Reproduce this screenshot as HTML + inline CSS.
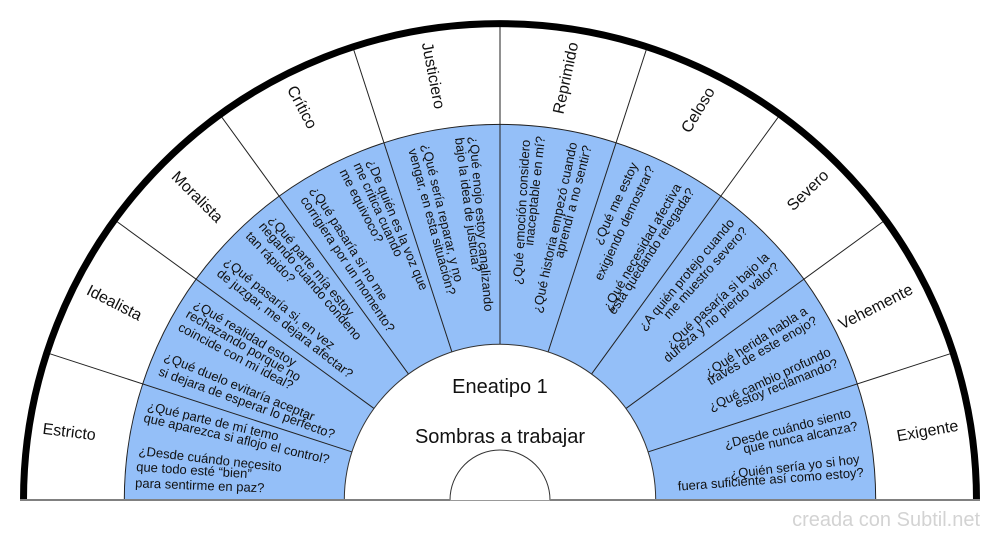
<!DOCTYPE html>
<html><head><meta charset="utf-8"><title>Eneatipo 1</title>
<style>
html,body{margin:0;padding:0;background:#fff;width:1000px;height:540px;overflow:hidden}
svg{display:block}
text{font-family:"Liberation Sans",sans-serif;fill:#111}
.q{font-size:13px}
.l{font-size:16px;text-anchor:middle}
.c{font-size:20px;text-anchor:middle}
.e{text-anchor:end}
</style></head><body>
<svg width="1000" height="540" viewBox="0 0 1000 540" xmlns="http://www.w3.org/2000/svg">
<path d="M124.3 500A375.7 375.7 0 0 1 875.7 500Z" fill="#94bff8" stroke="#222" stroke-width="1"/>
<g stroke="#222" stroke-width="1">
<line x1="50" y1="353.8" x2="351.6" y2="451.8"/>
<line x1="117.3" y1="221.9" x2="373.8" y2="408.3"/>
<line x1="221.9" y1="117.3" x2="408.3" y2="373.8"/>
<line x1="353.8" y1="50" x2="451.8" y2="351.6"/>
<line x1="500" y1="27" x2="500" y2="344"/>
<line x1="646.2" y1="50" x2="548.2" y2="351.6"/>
<line x1="778.1" y1="117.3" x2="591.7" y2="373.8"/>
<line x1="882.7" y1="221.9" x2="626.2" y2="408.3"/>
<line x1="950" y1="353.8" x2="648.4" y2="451.8"/>
</g>
<path d="M344.3 500A155.7 155.7 0 0 1 655.7 500Z" fill="#fff" stroke="#333" stroke-width="1"/>
<path d="M450 500A50 50 0 0 1 550 500" fill="#fff" stroke="#333" stroke-width="1"/>
<path d="M23.5 500A476.5 476.5 0 0 1 976.5 500" fill="none" stroke="#000" stroke-width="7"/>
<path d="M20 500H450M550 500H980" stroke="#808080" stroke-width="2" fill="none"/>

<text class="l" transform="translate(68.6 437) rotate(7)">Estricto</text>
<text class="l" transform="translate(112 307.4) rotate(27)">Idealista</text>
<text class="l" transform="translate(193.6 200.6) rotate(45)">Moralista</text>
<text class="l" transform="translate(297.5 109.6) rotate(62)">Crítico</text>
<text class="l" transform="translate(428.2 76.6) rotate(79)">Justiciero</text>
<text class="l" transform="translate(570.8 79.1) rotate(-78)">Reprimido</text>
<text class="l" transform="translate(702.5 112.6) rotate(-59)">Celoso</text>
<text class="l" transform="translate(811.4 194) rotate(-44)">Severo</text>
<text class="l" transform="translate(878 311.4) rotate(-27)">Vehemente</text>
<text class="l" transform="translate(928.4 436) rotate(-10)">Exigente</text>

<text class="q" transform="translate(135 487.3) rotate(2.2)">para sentirme en paz?</text>
<text class="q" transform="translate(136 471) rotate(3.6)">que todo esté “bien”</text>
<text class="q" transform="translate(138.3 455) rotate(6.7)">¿Desde cuándo necesito</text>
<text class="q" transform="translate(143 421.7) rotate(12.8)">que aparezca si aflojo el control?</text>
<text class="q" transform="translate(146.7 410) rotate(13.2)">¿Qué parte de mí temo</text>
<text class="q" transform="translate(157.7 375) rotate(20)">si dejara de esperar lo perfecto?</text>
<text class="q" transform="translate(163.3 360) rotate(22.3)">¿Qué duelo evitaría aceptar</text>
<text class="q" transform="translate(177.3 330) rotate(28)">coincide con mi ideal?</text>
<text class="q" transform="translate(185 316.7) rotate(30)">rechazando porque no</text>
<text class="q" transform="translate(192.7 306.7) rotate(31)">¿Qué realidad estoy</text>
<text class="q" transform="translate(216 275) rotate(38)">de juzgar, me dejara afectar?</text>
<text class="q" transform="translate(223.3 263.3) rotate(39)">¿Qué pasaría si, en vez</text>
<text class="q" transform="translate(245 236.7) rotate(46.5)">tan rápido?</text>
<text class="q" transform="translate(258.3 226.7) rotate(49.5)">negando cuando condeno</text>
<text class="q" transform="translate(268.3 220) rotate(50.5)">¿Qué parte mía estoy</text>
<text class="q" transform="translate(300 200) rotate(56.5)">corrigiera por un momento?</text>
<text class="q" transform="translate(310 190) rotate(57.5)">¿Qué pasaría si no me</text>
<text class="q" transform="translate(339.3 171.7) rotate(63)">me equivoco?</text>
<text class="q" transform="translate(353.3 165) rotate(65.5)">me critica cuando</text>
<text class="q" transform="translate(366.7 161.7) rotate(67.5)">¿De quién es la voz que</text>
<text class="q" transform="translate(408.3 150) rotate(75)">vengar, en esta situación?</text>
<text class="q" transform="translate(421.7 145) rotate(76.5)">¿Qué sería reparar, y no</text>
<text class="q" transform="translate(455 138.3) rotate(82.5)">bajo la idea de justicia?</text>
<text class="q" transform="translate(469.3 136.7) rotate(85)">¿Qué enojo estoy canalizando</text>

<text class="q e" transform="translate(530 140) rotate(-86.7)">¿Qué emoción considero</text>
<text class="q e" transform="translate(545 136.7) rotate(-83.8)">inaceptable en mí?</text>
<text class="q e" transform="translate(577.3 143.3) rotate(-78)">¿Qué historia empezó cuando</text>
<text class="q e" transform="translate(591.7 146.7) rotate(-75.5)">aprendí a no sentir?</text>
<text class="q e" transform="translate(638.3 165) rotate(-65)">¿Qué me estoy</text>
<text class="q e" transform="translate(655 168.3) rotate(-64.8)">exigiendo demostrar?</text>
<text class="q e" transform="translate(681.7 186.7) rotate(-60)">¿Qué necesidad afectiva</text>
<text class="q e" transform="translate(695 191.7) rotate(-57)">está quedando relegada?</text>
<text class="q e" transform="translate(735 223.3) rotate(-50)">¿A quién protejo cuando</text>
<text class="q e" transform="translate(748.3 231.7) rotate(-48)">me muestro severo?</text>
<text class="q e" transform="translate(770 258.3) rotate(-42.5)">¿Qué pasaría si bajo la</text>
<text class="q e" transform="translate(780 268.3) rotate(-40.2)">dureza y no pierdo valor?</text>
<text class="q e" transform="translate(808.3 313.3) rotate(-32.5)">¿Qué herida habla a</text>
<text class="q e" transform="translate(818.3 323.3) rotate(-30)">través de este enojo?</text>
<text class="q e" transform="translate(831.7 355) rotate(-25)">¿Qué cambio profundo</text>
<text class="q e" transform="translate(839 366.7) rotate(-22)">estoy reclamando?</text>
<text class="q e" transform="translate(851.7 416.7) rotate(-14.2)">¿Desde cuándo siento</text>
<text class="q e" transform="translate(858.3 430) rotate(-11.6)">que nunca alcanza?</text>
<text class="q e" transform="translate(860 463.3) rotate(-6.6)">¿Quién sería yo si hoy</text>
<text class="q e" transform="translate(864 476.7) rotate(-4.3)">fuera suficiente así como estoy?</text>

<text class="c" x="500" y="393">Eneatipo 1</text>
<text class="c" x="500" y="443">Sombras a trabajar</text>
<text x="980" y="526" text-anchor="end" style="font-size:20px;fill:#d3d3d3">creada con Subtil.net</text>
</svg>
</body></html>
